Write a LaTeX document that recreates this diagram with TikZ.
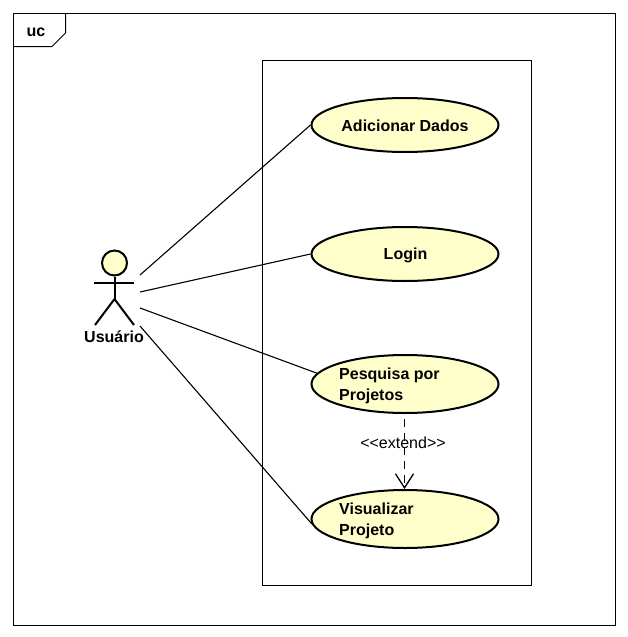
\documentclass[tikz,border=0pt]{standalone}
\usepackage{fontspec}
\setmainfont{Liberation Sans}
\usetikzlibrary{shapes.geometric,arrows.meta}
\definecolor{ucfill}{HTML}{FFFFCC}

\tikzset{
   usecase/.style={draw,ellipse,fill=ucfill,line width=2pt,minimum width=187pt,inner sep=0pt},
   uclabel/.style={font=\fontsize{16}{21}\selectfont\bfseries,inner sep=0pt},
   assoc/.style={line width=1.1pt},
   limb/.style={line width=2pt},
   box/.style={line width=1pt}
}

\begin{document}
\begin{tikzpicture}[x=1pt,y=-1pt]
\useasboundingbox (0,0) rectangle (628,637);

% frame and tag
\draw[box] (13.5,13.5) rectangle (615.5,625.5);
\draw[box] (13.5,46.5) -- (52,46.5) -- (65.5,33) -- (65.5,13.5);
\node[uclabel] (tag) at (36,32) {uc};

% system boundary
\draw[box] (262.5,60.5) rectangle (531.5,585.5);

% use cases
\node[usecase,minimum height=54pt] (adicionar) at (405,125) {};
\node[usecase,minimum height=54pt] (login) at (405,254) {};
\node[usecase,minimum height=58pt] (pesquisa) at (405,384) {};
\node[usecase,minimum height=58pt] (visualizar) at (405,519) {};
\node[uclabel] (adicionarText) at (405,126) {Adicionar Dados};
\node[uclabel] (loginText) at (405.5,255) {Login};
\node[uclabel,anchor=west,align=left] (pesquisaText) at (339,386) {Pesquisa por\\Projetos};
\node[uclabel,anchor=west,align=left] (visualizarText) at (339,521) {Visualizar\\Projeto};

% actor
\node[draw,circle,fill=ucfill,line width=2pt,minimum size=25pt,inner sep=0pt] (head) at (114.5,263) {};
\coordinate (hip) at (114.5,299);
\coordinate (armL) at (94,283);
\coordinate (armR) at (134,283);
\coordinate (legL) at (95,325);
\coordinate (legR) at (134,325);
\draw[limb] (head) -- (hip);
\draw[limb] (armL) -- (armR);
\draw[limb] (legL) -- (hip) -- (legR);
\node[uclabel] (usuario) at (114,337) {Usuário};

% associations
\coordinate (a1) at (140,275);
\coordinate (a2) at (140,292);
\coordinate (a3) at (140,308);
\coordinate (a4) at (140,326);
\draw[assoc] (a1) -- (adicionar.west);
\draw[assoc] (a2) -- (login.west);
\draw[assoc] (a3) -- (pesquisa.173);
\draw[assoc] (a4) -- (visualizar.183);

% extend
\draw[line width=1.5pt,dash pattern=on 8pt off 6pt,shorten <=5pt,-{Straight Barb[length=14pt,width=18pt,line width=1.3pt]}] (pesquisa.south -| 404.5,0) -- (visualizar.north -| 404.5,0);
\node[font=\fontsize{16}{18}\selectfont,inner sep=0pt] (extend) at (403,443) {<{}<extend>{}>};
\end{tikzpicture}
\end{document}
